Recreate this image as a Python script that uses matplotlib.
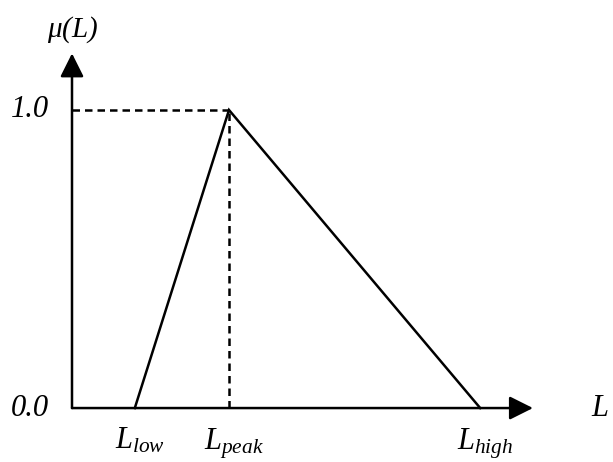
import matplotlib
matplotlib.use("Agg")
import matplotlib.pyplot as plt

# Triangular membership function: breakpoints on the L axis
L_low, L_peak, L_high = 2.0, 5.0, 13.0
mu_values = [0.0, 1.0, 0.0]
y_tick_labels = ["0.0", "1.0"]
x_labels = [r"$L_{low}$", r"$L_{peak}$", r"$L_{high}$"]

x_axis_end = 14.68
y_axis_end = 1.19

plt.rcParams["mathtext.fontset"] = "custom"
plt.rcParams["mathtext.it"] = "Liberation Serif:italic"
plt.rcParams["mathtext.rm"] = "Liberation Serif:italic"

fig = plt.figure(figsize=(6.13, 4.62), dpi=100)
ax = fig.add_axes([0, 0, 1, 1])
ax.set_xlim(-2.293, 17.229)
ax.set_ylim(-0.181, 1.369)
ax.axis("off")

lw = 1.8
font = dict(family="Liberation Serif", style="italic", color="black")

# membership triangle
ax.plot([L_low, L_peak, L_high], mu_values, color="black", lw=lw,
        solid_joinstyle="miter")

# dashed guides to the peak
ax.plot([0, L_peak], [1.0, 1.0], color="black", lw=lw, ls=(0, (3.0, 2.0)))
ax.plot([L_peak, L_peak], [0, 1.0], color="black", lw=lw, ls=(0, (3.0, 2.0)))

# axes with arrow heads
arrow = dict(arrowstyle="-|>,head_length=0.72,head_width=0.36",
             mutation_scale=20, color="black", lw=lw, shrinkA=0, shrinkB=0)
ax.annotate("", xy=(x_axis_end, 0), xytext=(0, 0), arrowprops=arrow)
ax.annotate("", xy=(0, y_axis_end), xytext=(0, 0), arrowprops=arrow)

# value labels on the vertical axis
for val, lab in zip([0.0, 1.0], y_tick_labels):
    ax.text(-0.72, val, lab, ha="right", va="center", fontsize=22, **font)

# breakpoint labels under the horizontal axis
for xv, lab in zip([L_low, L_peak, L_high], x_labels):
    ax.text(xv + 0.15, -0.06, lab, ha="center", va="top", fontsize=22, **font)

ax.text(16.55, 0, "L", ha="left", va="center", fontsize=22, **font)
ax.text(0.03, 1.27, r"$\mu(L)$", ha="center", va="center", fontsize=21,
        **font)

fig.savefig("out.png", dpi=100)
